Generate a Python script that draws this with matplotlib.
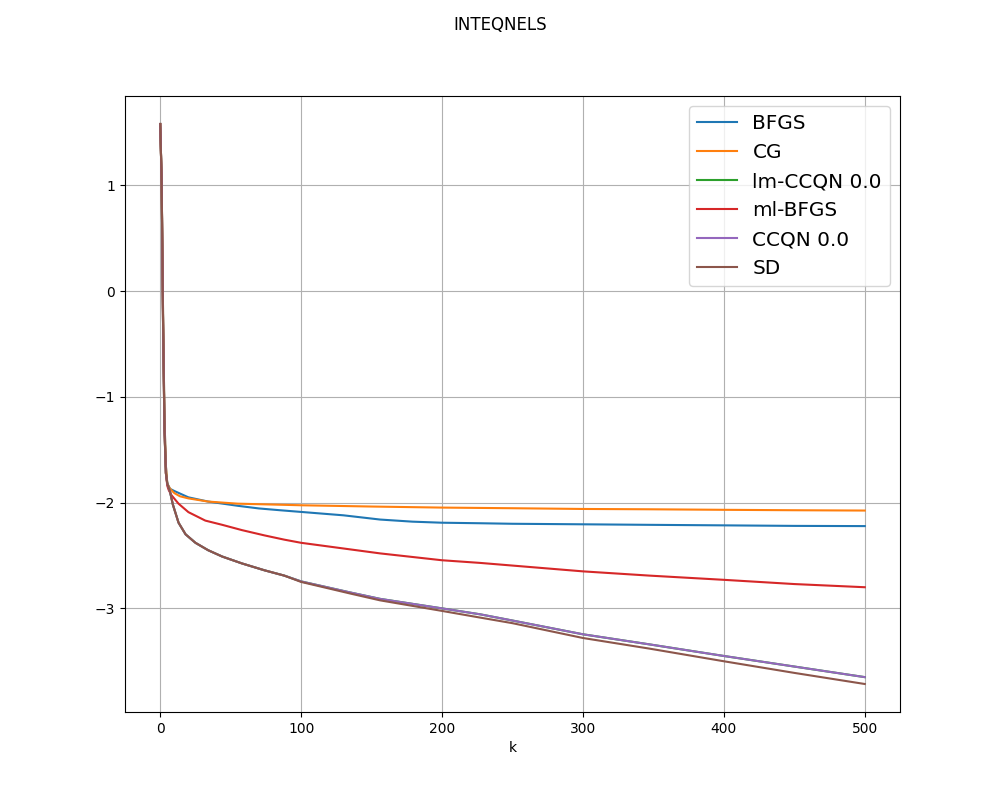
import matplotlib
matplotlib.use("Agg")
import matplotlib.pyplot as plt

title = "INTEQNELS"

k_bfgs = [0, 1, 2, 3, 4, 5, 7, 10, 20, 34, 55, 70, 85, 100, 130, 156, 179, 200, 227, 250, 300, 347, 400, 450, 500]
bfgs = [1.58, 1.05, -0.2, -1.2, -1.65, -1.82, -1.87, -1.89, -1.95, -1.99, -2.03, -2.055, -2.072, -2.088,
        -2.12, -2.16, -2.18, -2.19, -2.195, -2.20, -2.205, -2.21, -2.215, -2.22, -2.222]

k_cg = [0, 1, 2, 3, 4, 5, 7, 10, 14, 20, 34, 55, 85, 100, 150, 200, 250, 300, 347, 400, 450, 500]
cg = [1.58, 1.05, -0.2, -1.2, -1.65, -1.82, -1.87, -1.91, -1.94, -1.96, -1.99, -2.01, -2.02, -2.025,
      -2.037, -2.047, -2.053, -2.06, -2.063, -2.068, -2.072, -2.075]

k_ml = [0, 1, 2, 3, 4, 5, 6, 8, 13, 20, 32, 44, 58, 74, 88, 100, 156, 200, 227, 300, 347, 400, 450, 500]
ml_bfgs = [1.58, 1.05, -0.3, -1.3, -1.72, -1.84, -1.88, -1.93, -2.01, -2.09, -2.17, -2.21, -2.26, -2.31,
           -2.35, -2.38, -2.48, -2.545, -2.57, -2.65, -2.69, -2.73, -2.77, -2.80]

k_ccqn = [0, 1, 2, 3, 4, 5, 7, 9, 13, 18, 25, 34, 44, 58, 74, 88, 100, 135, 156, 200, 227, 250, 300,
          347, 400, 450, 500]
ccqn = [1.58, 1.05, -0.3, -1.3, -1.72, -1.82, -1.90, -2.02, -2.19, -2.30, -2.38, -2.45, -2.51, -2.575,
        -2.64, -2.69, -2.745, -2.85, -2.91, -3.00, -3.056, -3.115, -3.245, -3.34, -3.45, -3.55, -3.65]
lm_ccqn = list(ccqn)

k_sd = [0, 1, 2, 3, 4, 5, 7, 9, 13, 18, 25, 34, 44, 58, 74, 88, 100, 135, 156, 200, 227, 250, 300,
        347, 400, 450, 500]
sd = [1.58, 1.05, -0.3, -1.3, -1.72, -1.82, -1.90, -2.02, -2.19, -2.30, -2.38, -2.45, -2.51, -2.575,
      -2.64, -2.69, -2.75, -2.86, -2.924, -3.024, -3.087, -3.14, -3.28, -3.38, -3.50, -3.61, -3.715]

fig = plt.figure(figsize=(10, 8), dpi=100)
ax = fig.add_subplot(111)
ax.plot(k_bfgs, bfgs, label="BFGS")
ax.plot(k_cg, cg, label="CG")
ax.plot(k_ccqn, lm_ccqn, label="lm-CCQN 0.0")
ax.plot(k_ml, ml_bfgs, label="ml-BFGS")
ax.plot(k_ccqn, ccqn, label="CCQN 0.0")
ax.plot(k_sd, sd, label="SD")
ax.grid(True)
ax.set_xlabel("k")
ax.legend(fontsize="x-large", loc="upper right")
fig.suptitle(title)
fig.savefig("out.png")
